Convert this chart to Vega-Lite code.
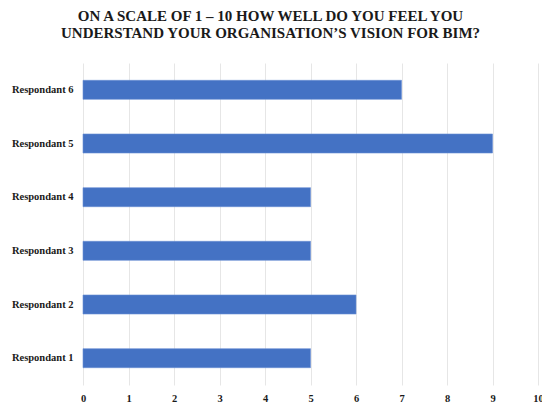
{
  "$schema": "https://vega.github.io/schema/vega-lite/v6.json",
  "width": 455,
  "height": 322,
  "autosize": "none",
  "padding": {"left": 83, "top": 63, "right": 4, "bottom": 21},
  "background": "white",
  "title": {
    "text": ["ON A SCALE OF 1 – 10 HOW WELL DO YOU FEEL YOU", "UNDERSTAND YOUR ORGANISATION’S VISION  FOR BIM?"],
    "font": "Liberation Serif",
    "fontSize": 15,
    "fontWeight": "bold",
    "color": "#1a1a1a",
    "lineHeight": 17,
    "anchor": "middle",
    "dx": -40,
    "offset": 22
  },
  "data": {
    "values": [
      {"respondent": "Respondant 6", "score": 7},
      {"respondent": "Respondant 5", "score": 9},
      {"respondent": "Respondant 4", "score": 5},
      {"respondent": "Respondant 3", "score": 5},
      {"respondent": "Respondant 2", "score": 6},
      {"respondent": "Respondant 1", "score": 5}
    ]
  },
  "mark": {"type": "bar", "color": "#4472C4", "stroke": "#6a8fd4", "strokeWidth": 0.6},
  "encoding": {
    "y": {
      "field": "respondent",
      "type": "nominal",
      "sort": null,
      "scale": {"paddingInner": 0.645, "paddingOuter": 0.3225},
      "axis": {
        "title": null,
        "domain": false,
        "ticks": false,
        "labelFont": "Liberation Serif",
        "labelFontWeight": "bold",
        "labelFontSize": 10.5,
        "labelColor": "#1a1a1a",
        "labelPadding": 10
      }
    },
    "x": {
      "field": "score",
      "type": "quantitative",
      "scale": {"domain": [0, 10], "nice": false},
      "axis": {
        "title": null,
        "domain": false,
        "ticks": false,
        "values": [0, 1, 2, 3, 4, 5, 6, 7, 8, 9, 10],
        "grid": true,
        "gridColor": "#e6e6e6",
        "gridWidth": 1,
        "labelFont": "Liberation Serif",
        "labelFontWeight": "bold",
        "labelFontSize": 10.5,
        "labelColor": "#1a1a1a",
        "labelPadding": 8,
        "labelFlush": false
      }
    }
  },
  "config": {"view": {"stroke": null}}
}
